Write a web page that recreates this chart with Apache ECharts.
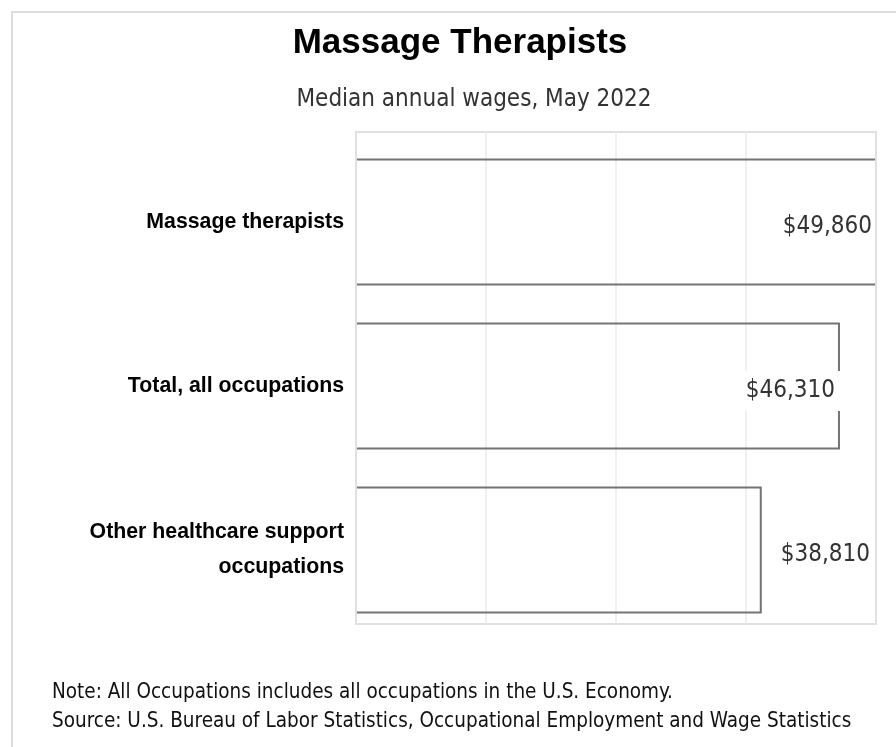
<!DOCTYPE html>
<html>
<head>
<meta charset="utf-8">
<script src="https://cdn.jsdelivr.net/npm/echarts@6/dist/echarts.min.js"></script>
<style>
html,body{margin:0;padding:0;background:#fff;}
#chart{width:896px;height:747px;}
</style>
</head>
<body>
<div id="chart"></div>
<script>
var titleText = 'Massage Therapists';
var subtitleText = 'Median annual wages, May 2022';
var categories = ['Massage therapists', 'Total, all occupations', 'Other healthcare support\noccupations'];
var wages = [49860, 46310, 38810];
var notes = [
  'Note: All Occupations includes all occupations in the U.S. Economy.',
  'Source: U.S. Bureau of Labor Statistics, Occupational Employment and Wage Statistics'
];

var maxVal = Math.max.apply(null, wages);
var condensed = "'DejaVu Sans Condensed', 'DejaVu Sans', sans-serif";
var fmt = function (v) { return '$' + v.toLocaleString('en-US'); };
var BAR_THICK = 125;

var chart = echarts.init(document.getElementById('chart'), null, {renderer: 'canvas'});

var labelData = wages.map(function (v, i) {
  var item = {value: v};
  if (i === 2) {
    item.label = {position: 'right', distance: 20, backgroundColor: 'transparent', padding: 0};
  }
  return item;
});
var outlineData = wages.map(function (v, i) { return [v, i]; });

function renderOutline(params, api) {
  var idx = api.value(1);
  var p0 = api.coord([0, idx]);
  var p1 = api.coord([api.value(0), idx]);
  var h = BAR_THICK / 2;
  return {
    type: 'polyline',
    shape: {points: [[p0[0], p0[1] - h], [p1[0], p1[1] - h], [p1[0], p1[1] + h], [p0[0], p0[1] + h]]},
    style: {fill: 'none', stroke: '#747474', lineWidth: 2}
  };
}

chart.setOption({
  animation: false,
  backgroundColor: '#fff',
  grid: [
    {left: 356, top: 140, width: 520, height: 492, show: false},
    {left: 356, top: 132, width: 520, height: 492, show: true, borderColor: '#e0e0e0', borderWidth: 2, backgroundColor: 'transparent'}
  ],
  xAxis: [
    {gridIndex: 0, type: 'value', min: 0, max: maxVal, show: false},
    {gridIndex: 1, type: 'value', min: 0, max: maxVal, interval: maxVal / 4,
     axisLine: {show: false}, axisTick: {show: false}, axisLabel: {show: false},
     splitLine: {show: true, lineStyle: {color: '#ebebeb', width: 1.5}}}
  ],
  yAxis: [
    {gridIndex: 0, type: 'category', inverse: true, data: categories,
     axisLine: {show: false}, axisTick: {show: false}, splitLine: {show: false},
     axisLabel: {margin: 12, color: '#000', fontFamily: "'Liberation Sans', Arial, sans-serif",
                 fontWeight: 'bold', fontSize: 21.3, lineHeight: 35, align: 'right'}},
    {gridIndex: 1, type: 'value', position: 'left', z: 10,
     axisLine: {show: true, onZero: false, lineStyle: {color: '#e0e0e0', width: 2}},
     axisTick: {show: false}, axisLabel: {show: false}, splitLine: {show: false}},
    {gridIndex: 1, type: 'value', position: 'right', z: 10,
     axisLine: {show: true, onZero: false, lineStyle: {color: '#e0e0e0', width: 2}},
     axisTick: {show: false}, axisLabel: {show: false}, splitLine: {show: false}}
  ],
  series: [
    {
      type: 'custom',
      xAxisIndex: 0,
      yAxisIndex: 0,
      z: 3,
      renderItem: renderOutline,
      data: outlineData,
      encode: {x: 0, y: 1}
    },
    {
      type: 'bar',
      xAxisIndex: 0,
      yAxisIndex: 0,
      data: labelData,
      barWidth: BAR_THICK,
      z: 4,
      itemStyle: {color: 'rgba(255,255,255,0)', borderWidth: 0},
      label: {
        show: true,
        position: 'insideRight',
        distance: -2,
        offset: [0, 5],
        formatter: function (p) { return fmt(p.value); },
        fontFamily: condensed,
        fontSize: 24,
        color: '#333',
        backgroundColor: '#fff',
        padding: [8, 6, 8, 2]
      }
    }
  ],
  graphic: [
    {type: 'rect', silent: true, z: -1,
     shape: {x: 12, y: 12, width: 1000, height: 1000},
     style: {fill: 'none', stroke: '#dddddd', lineWidth: 2}},
    {type: 'text', x: 460, y: 43,
     style: {text: titleText, font: "bold 35px 'Liberation Sans', Arial, sans-serif",
             fill: '#000', textAlign: 'center', textVerticalAlign: 'middle'}},
    {type: 'text', x: 474, y: 100,
     style: {text: subtitleText, fontFamily: condensed, fontSize: 24,
             fill: '#333', textAlign: 'center', textVerticalAlign: 'middle'}},
    {type: 'text', x: 52, y: 693,
     style: {text: notes[0], fontFamily: condensed, fontSize: 20.5,
             fill: '#111', textAlign: 'left', textVerticalAlign: 'middle'}},
    {type: 'text', x: 52, y: 722,
     style: {text: notes[1], fontFamily: condensed, fontSize: 20.5,
             fill: '#111', textAlign: 'left', textVerticalAlign: 'middle'}}
  ]
});
</script>
</body>
</html>
